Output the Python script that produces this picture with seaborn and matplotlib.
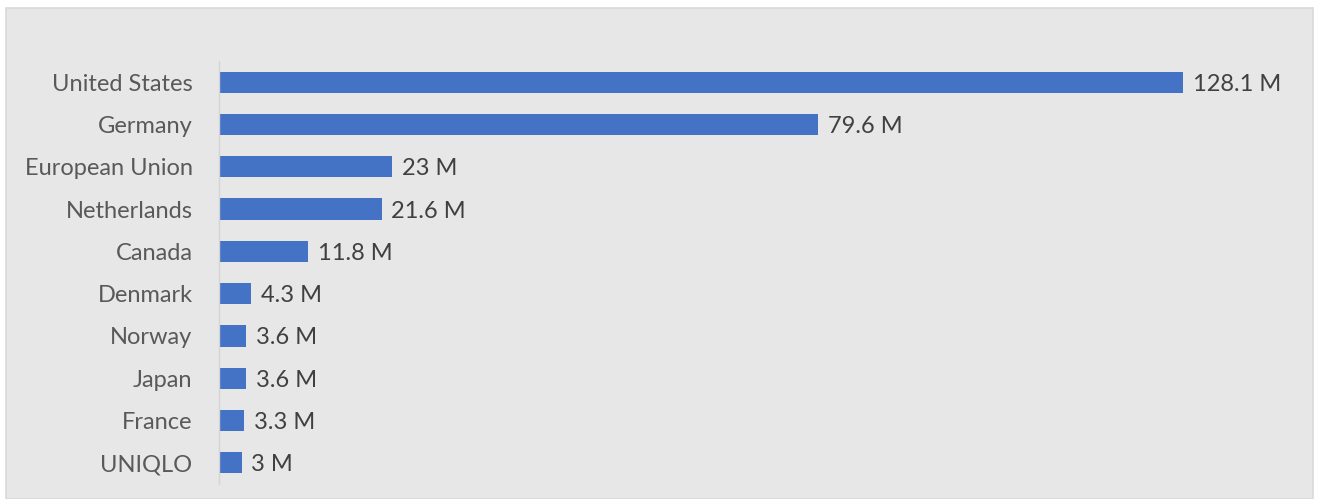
import matplotlib
matplotlib.use("Agg")
import matplotlib.pyplot as plt
import matplotlib.patches as mpatches
import pandas as pd
import seaborn as sns

countries = ["United States", "Germany", "European Union", "Netherlands", "Canada",
             "Denmark", "Norway", "Japan", "France", "UNIQLO"]
values = [128.1, 79.6, 23, 21.6, 11.8, 4.3, 3.6, 3.6, 3.3, 3]

df = pd.DataFrame({"country": countries, "value": values})

sns.set_theme(style="white")
plt.rcParams["font.family"] = ["Lato", "DejaVu Sans"]

W, H = 1317, 499
fig = plt.figure(figsize=(W / 100, H / 100), dpi=100, facecolor="white")

# chart area box, behind the axes
box = mpatches.Rectangle((6 / W, 0), (1313 - 6) / W, 491 / H,
                         transform=fig.transFigure, facecolor="#e7e7e7",
                         edgecolor="#d9d9d9", linewidth=1.2, zorder=-10)
fig.patches.append(box)

ax = fig.add_axes([219 / W, 1 - 484 / H, (1290 - 219) / W, (484 - 61) / H])
ax.set_zorder(5)
ax.set_facecolor("none")

sns.barplot(data=df, x="value", y="country", orient="h", color="#4472c4",
            width=0.5, saturation=1, linewidth=0, ax=ax)

ax.set_xlim(0, 142.3)
ax.set_ylim(9.5, -0.5)
labels = ax.bar_label(ax.containers[0], labels=[f"{v:g} M" for v in values],
                      padding=7, fontsize=17, color="#404040")
for t in labels:
    t.set_va("center_baseline")

ax.set_xlabel("")
ax.set_ylabel("")
ax.set_xticks([])
ax.tick_params(axis="y", length=0, pad=19, labelsize=17, labelcolor="#595959")
for s in ["top", "right", "bottom"]:
    ax.spines[s].set_visible(False)
ax.spines["left"].set_color("#d4d4d4")
ax.spines["left"].set_linewidth(1)

fig.savefig("out.png", dpi=100, facecolor="white")
